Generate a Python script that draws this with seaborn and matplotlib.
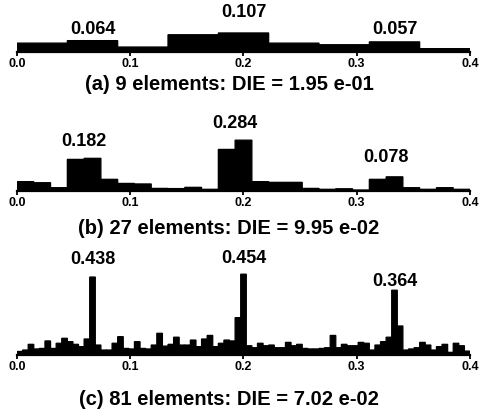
import numpy as np
import pandas as pd
import matplotlib
matplotlib.use("Agg")
import matplotlib.pyplot as plt
import seaborn as sns

# values per element
a_vals = [0.050, 0.064, 0.028, 0.097, 0.107, 0.050, 0.041, 0.057, 0.019]

b_vals = [0.051, 0.045, 0.017, 0.176, 0.182, 0.064, 0.041, 0.038, 0.013,
          0.012, 0.019, 0.008, 0.232, 0.284, 0.051, 0.047, 0.047, 0.013,
          0.008, 0.011, 0.004, 0.064, 0.078, 0.017, 0.008, 0.017, 0.008]

c_vals = [0.020, 0.028, 0.060, 0.034, 0.037, 0.079, 0.037, 0.066, 0.094, 0.075,
          0.060, 0.047, 0.090, 0.438, 0.056, 0.028, 0.028, 0.066, 0.103, 0.037,
          0.034, 0.075, 0.037, 0.034, 0.056, 0.122, 0.050, 0.060, 0.100, 0.056,
          0.056, 0.084, 0.047, 0.090, 0.110, 0.047, 0.066, 0.084, 0.079, 0.210,
          0.454, 0.052, 0.041, 0.066, 0.052, 0.056, 0.041, 0.041, 0.071, 0.052,
          0.060, 0.037, 0.034, 0.034, 0.037, 0.041, 0.110, 0.041, 0.060, 0.052,
          0.052, 0.071, 0.066, 0.028, 0.056, 0.075, 0.100, 0.364, 0.163, 0.028,
          0.034, 0.041, 0.071, 0.056, 0.028, 0.047, 0.060, 0.015, 0.066, 0.052,
          0.022]

titles = ["(a) 9 elements: DIE = 1.95 e-01",
          "(b) 27 elements: DIE = 9.95 e-02",
          "(c) 81 elements: DIE = 7.02 e-02"]

# which elements get a value label
a_peaks = [1, 4, 7]
b_peaks = [4, 13, 22]
c_peaks = [13, 40, 67]

x_ticks = [0.0, 0.1, 0.2, 0.3, 0.4]

sns.set_style("white")
plt.rcParams["font.family"] = ["Liberation Sans", "DejaVu Sans"]
plt.rcParams["font.weight"] = "bold"
plt.rcParams["text.color"] = "black"
plt.rcParams["xtick.color"] = "black"
plt.rcParams["xtick.labelcolor"] = "black"

W, H = 481, 413
PX_PER_UNIT = 178.0
fig = plt.figure(figsize=(W / 100, H / 100), dpi=100)

# baseline (px from top), axes height (px), label gaps (px), title baseline (px)
layout = [
    dict(vals=a_vals, peaks=a_peaks, base=52, h=48, gaps=[7, 16, 7.7], at_edge=False, tb=90.5),
    dict(vals=b_vals, peaks=b_peaks, base=190.7, h=65, gaps=[12.3, 11.7, 15], at_edge=True, tb=233.5),
    dict(vals=c_vals, peaks=c_peaks, base=355, h=90, gaps=[13.3, 11, 4], at_edge=False, tb=405),
]

for p, title in zip(layout, titles):
    vals = np.array(p["vals"])
    n = len(vals)
    edges = np.linspace(0, 0.4, n + 1)
    centers = (edges[:-1] + edges[1:]) / 2
    df = pd.DataFrame({"x": centers, "w": vals})

    ax = fig.add_axes([17 / W, 1 - p["base"] / H, 453 / W, p["h"] / H])
    sns.histplot(data=df, x="x", weights="w", bins=n, binrange=(0, 0.4), ax=ax,
                 color="black", alpha=1, edgecolor="black", linewidth=0.9,
                 stat="count")
    for bar in ax.patches:
        bar.set_snap(False)
    ax.set_xlim(0, 0.4)
    ax.set_ylim(0, p["h"] / PX_PER_UNIT)
    ax.set_xlabel("")
    ax.set_ylabel("")
    ax.set_yticks([])
    for s in ["top", "left", "right"]:
        ax.spines[s].set_visible(False)
    ax.spines["bottom"].set_linewidth(1.6)
    ax.spines["bottom"].set_color("black")
    ax.set_xticks(x_ticks)
    ax.set_xticklabels([f"{t:.1f}" for t in x_ticks])
    ax.tick_params(axis="x", bottom=True, direction="out", length=3, width=1.3,
                   labelsize=9, pad=1.2, colors="black")
    for lab in ax.get_xticklabels():
        lab.set_fontweight("bold")
    ax.patch.set_alpha(0)

    for idx, gap in zip(p["peaks"], p["gaps"]):
        x = edges[idx] if p["at_edge"] else centers[idx]
        ax.annotate(f"{vals[idx]:.3f}", xy=(x, vals[idx]),
                    xytext=(0, gap * 0.72), textcoords="offset points",
                    ha="center", va="baseline", fontsize=13, fontweight="bold",
                    color="black", annotation_clip=False)

    fig.text(229 / W, 1 - p["tb"] / H, title, ha="center", va="baseline",
             fontsize=14.5, fontweight="bold", color="black")

fig.savefig("out.png", dpi=100)
